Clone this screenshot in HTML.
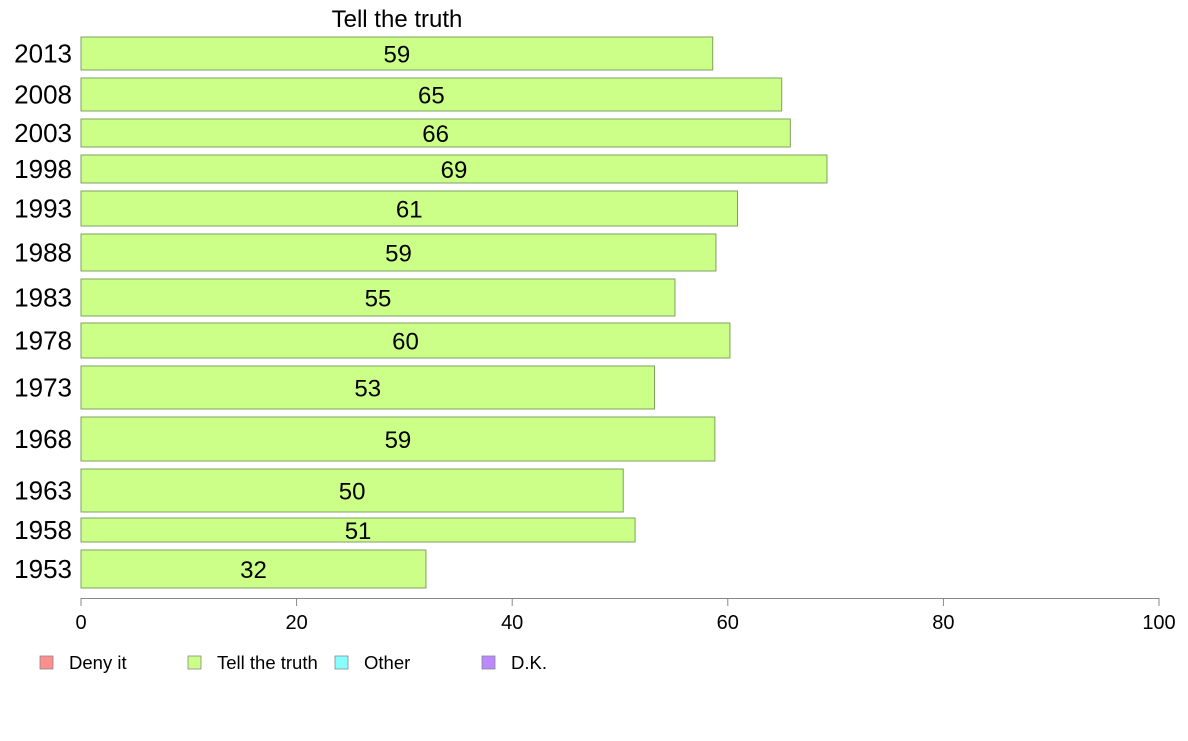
<!DOCTYPE html>
<html><head><meta charset="utf-8"><style>
body{margin:0;background:#fff;font-family:"Liberation Sans",Arial,sans-serif}
svg text{font-family:"Liberation Sans",Arial,sans-serif}
</style></head><body>
<svg id="chart" width="1188" height="736" viewBox="0 0 1188 736" xmlns="http://www.w3.org/2000/svg"></svg>
<script>
const years=["2013","2008","2003","1998","1993","1988","1983","1978","1973","1968","1963","1958","1953"];
const values=[58.6,65.0,65.8,69.2,60.9,58.9,55.1,60.2,53.2,58.8,50.3,51.4,32.0];
const labels=["59","65","66","69","61","59","55","60","53","59","50","51","32"];
const ticks=[0,20,40,60,80,100];
const legendNames=["Deny it","Tell the truth","Other","D.K."];
const legendColors=["#ff8f8f","#ccff88","#88ffff","#bb88ff"];
// layout bands (pixel tops/bottoms of each bar)
const bandTop=[37,78,119,155,191,234,279,323,366,417,469,518,550];
const bandBot=[70,111,147,183,226,271,316,358,409,461,512,542,588];
const svg=document.getElementById('chart');
const NS="http://www.w3.org/2000/svg";
const x0=81,x1=1159;
const xs=v=>x0+(x1-x0)*v/100;
function mk(t,a,txt){const e=document.createElementNS(NS,t);for(const k in a)e.setAttribute(k,a[k]);if(txt!==undefined)e.textContent=txt;svg.appendChild(e);return e;}
let t=mk('text',{x:397,y:27,'font-size':24,'text-anchor':'middle',fill:'#000'},'Tell the truth');


years.forEach((y,i)=>{
  const top=bandTop[i],h=bandBot[i]-top,mid=top+h/2;
  const r=mk('rect',{x:x0,y:top,width:xs(values[i])-x0,height:h,fill:'#ccff88',stroke:'#7fa060','stroke-width':1});
  
  
  const l=mk('text',{x:(x0+xs(values[i]))/2,y:mid+9,'font-size':24,'text-anchor':'middle',fill:'#000'},labels[i]);
  
  
  const yl=mk('text',{x:72,y:mid+9,'font-size':26,'text-anchor':'end',fill:'#000'},y);
  
  
});
const ax=mk('line',{x1:x0,y1:598.5,x2:x1,y2:598.5,stroke:'#888','stroke-width':1});


ticks.forEach(v=>{
  const tk=mk('line',{x1:xs(v),y1:598,x2:xs(v),y2:606,stroke:'#888','stroke-width':1});
  
  
  const tl=mk('text',{x:xs(v),y:629,'font-size':20,'text-anchor':'middle',fill:'#000'},String(v));
  
  
});
const lx=[40,188,335,482];
legendNames.forEach((n,i)=>{
  const s=mk('rect',{x:lx[i],y:656,width:13,height:13,fill:legendColors[i],stroke:'#888','stroke-width':0.8});
  
  
  const lt=mk('text',{x:lx[i]+29,y:669,'font-size':18.5,fill:'#000'},n);
  
  
});
</script>
</body></html>
